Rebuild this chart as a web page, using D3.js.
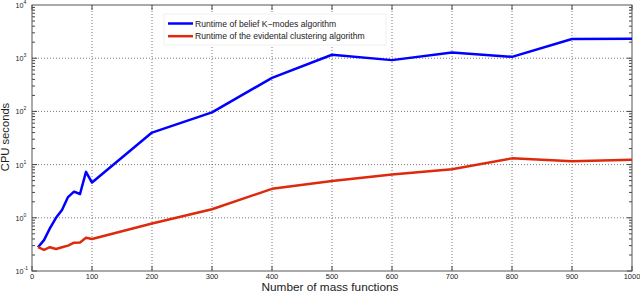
<!DOCTYPE html>
<html>
<head>
<meta charset="utf-8">
<script src="https://cdn.jsdelivr.net/npm/d3@7"></script>
<style>
  body { margin: 0; background: #fff; }
  text { font-family: "Liberation Sans", Arial, sans-serif; fill: #222; }
</style>
</head>
<body>
<svg id="chart" width="640" height="293"></svg>
<script>
const massFunctions = [10, 20, 30, 40, 50, 60, 70, 80, 90, 100, 200, 300, 400, 500, 600, 700, 800, 900, 1000];
const kModesSeconds = [0.28, 0.38, 0.64, 1.0, 1.4, 2.45, 3.1, 2.8, 7.3, 4.6, 40, 96, 427, 1160, 920, 1280, 1060, 2300, 2330];
const evidentialSeconds = [0.28, 0.25, 0.28, 0.26, 0.28, 0.30, 0.34, 0.345, 0.42, 0.40, 0.78, 1.45, 3.5, 4.9, 6.5, 8.2, 13.1, 11.6, 12.3];
const xTicks = [0, 100, 200, 300, 400, 500, 600, 700, 800, 900, 1000];
const yExponents = [-1, 0, 1, 2, 3, 4];
const seriesNames = ["Runtime of belief K\u2212modes algorithm", "Runtime of the evidental clustering algorithm"];
const seriesColors = ["#0000ff", "#dd2a0c"];

const svg = d3.select("#chart");
const plotLeft = 32, plotRight = 632, plotTop = 5, plotBottom = 271;

const x = d3.scaleLinear().domain([0, 1000]).range([plotLeft, plotRight]);
const y = d3.scaleLog().domain([0.1, 10000]).range([plotBottom, plotTop]);

// grid
const grid = svg.append("g").attr("stroke", "#555").attr("stroke-width", 0.8)
    .attr("stroke-dasharray", "1,2");
grid.selectAll(".gx").data(xTicks.slice(1, -1)).enter().append("line")
    .attr("x1", d => x(d)).attr("x2", d => x(d)).attr("y1", plotTop).attr("y2", plotBottom);
grid.selectAll(".gy").data(yExponents.slice(1, -1)).enter().append("line")
    .attr("x1", plotLeft).attr("x2", plotRight)
    .attr("y1", d => y(Math.pow(10, d))).attr("y2", d => y(Math.pow(10, d)));

// ticks inside the box
const ticks = svg.append("g").attr("stroke", "#444").attr("stroke-width", 1);
xTicks.forEach(function(t) {
    ticks.append("line").attr("x1", x(t)).attr("x2", x(t)).attr("y1", plotBottom).attr("y2", plotBottom - 5);
    ticks.append("line").attr("x1", x(t)).attr("x2", x(t)).attr("y1", plotTop).attr("y2", plotTop + 5);
});
for (let e = -1; e < 4; e++) {
    for (let m = 1; m < 10; m++) {
        const v = m * Math.pow(10, e);
        const len = m === 1 ? 5 : 3;
        ticks.append("line").attr("x1", plotLeft).attr("x2", plotLeft + len).attr("y1", y(v)).attr("y2", y(v));
        ticks.append("line").attr("x1", plotRight).attr("x2", plotRight - len).attr("y1", y(v)).attr("y2", y(v));
    }
}

// box
svg.append("rect").attr("x", plotLeft).attr("y", plotTop)
    .attr("width", plotRight - plotLeft).attr("height", plotBottom - plotTop)
    .attr("fill", "none").attr("stroke", "#555").attr("stroke-width", 1);

// tick labels
svg.append("g").selectAll("text").data(xTicks).enter().append("text")
    .attr("x", d => x(d)).attr("y", 279).attr("text-anchor", "middle")
    .attr("font-size", 7.5).text(d => d);

const yl = svg.append("g").selectAll("text").data(yExponents).enter().append("text")
    .attr("x", 15.5).attr("y", d => y(Math.pow(10, d)) + 3).attr("text-anchor", "start")
    .attr("font-size", 7.2);
yl.append("tspan").text("10");
yl.append("tspan").attr("dy", -4).attr("font-size", 5).text(d => d);

// axis titles
svg.append("text").attr("x", 330).attr("y", 291.2).attr("text-anchor", "middle")
    .attr("font-size", 11.8).text("Number of mass functions");
svg.append("text").attr("transform", "translate(9,137) rotate(-90)").attr("text-anchor", "middle")
    .attr("font-size", 11.2).text("CPU seconds");

// lines
const line = d3.line().x(d => x(d[0])).y(d => y(d[1]));
[kModesSeconds, evidentialSeconds].forEach(function(vals, i) {
    svg.append("path")
        .datum(massFunctions.map((m, j) => [m, vals[j]]))
        .attr("d", line).attr("fill", "none")
        .attr("stroke", seriesColors[i]).attr("stroke-width", 2.5)
        .attr("stroke-linejoin", "round");
});

// legend
const lg = svg.append("g");
lg.append("rect").attr("x", 164).attr("y", 14).attr("width", 222).attr("height", 31)
    .attr("fill", "#fff").attr("stroke", "#f0f0f0");
seriesNames.forEach(function(name, i) {
    const ly = 23.5 + i * 12.7;
    lg.append("line").attr("x1", 168).attr("x2", 193).attr("y1", ly).attr("y2", ly)
        .attr("stroke", seriesColors[i]).attr("stroke-width", 2.5);
    lg.append("text").attr("x", 195).attr("y", ly + 3).attr("font-size", 8.6).text(name);
});
</script>
</body>
</html>
